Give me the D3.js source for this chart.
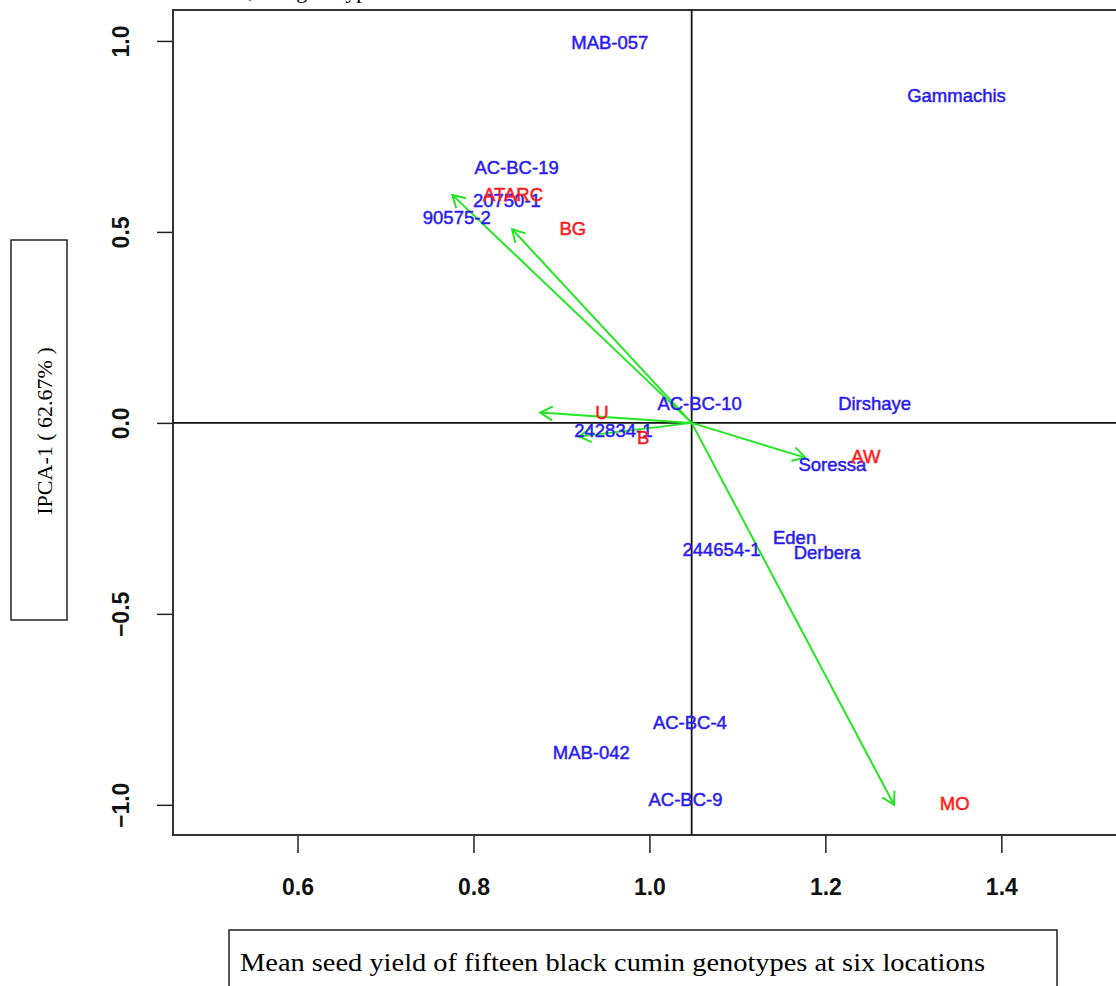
<!DOCTYPE html>
<html>
<head>
<meta charset="utf-8">
<script src="https://cdn.jsdelivr.net/npm/d3@7"></script>
<style>
  body { margin: 0; background: #fff; }
  svg { display: block; }
</style>
</head>
<body>
<div id="chart"></div>
<script>
// GGE biplot - mean seed yield vs IPCA-1

// genotypes (blue labels)
var genoNames = ["MAB-057", "Gammachis", "AC-BC-19", "20750-1", "90575-2", "AC-BC-10", "Dirshaye",
  "242834-1", "Soressa", "Eden", "Derbera", "244654-1", "AC-BC-4", "MAB-042", "AC-BC-9"];
var genoYield = [0.955, 1.349, 0.849, 0.838, 0.781, 1.057, 1.256,
  0.959, 1.208, 1.165, 1.202, 1.082, 1.046, 0.934, 1.041];
var genoIPCA = [0.997, 0.856, 0.668, 0.581, 0.537, 0.050, 0.052,
  -0.021, -0.110, -0.301, -0.340, -0.332, -0.785, -0.864, -0.987];

// environments (red labels + green vectors)
var envNames = ["ATARC", "BG", "U", "B", "AW", "MO"];
var envYield = [0.845, 0.913, 0.946, 0.993, 1.246, 1.347];
var envIPCA = [0.599, 0.508, 0.026, -0.037, -0.089, -0.997];
var arrowX = [0.776, 0.844, 0.876, 0.920, 1.177, 1.278];
var arrowY = [0.597, 0.507, 0.027, -0.036, -0.091, -1.000];

var grandMean = 1.048;
var xTicks = [0.6, 0.8, 1.0, 1.2, 1.4];
var yTicks = [-1.0, -0.5, 0.0, 0.5, 1.0];

var width = 1116, height = 986;
var plot = { left: 173, top: 10, right: 1143, bottom: 835 };

var svg = d3.select("#chart").append("svg")
  .attr("width", width)
  .attr("height", height);

var x = d3.scaleLinear().domain([0.4585, 1.561]).range([plot.left, plot.right]);
var y = d3.scaleLinear().domain([-1.079, 1.081]).range([plot.bottom, plot.top]);

// cut off caption text above the figure
svg.append("text")
  .attr("x", 248).attr("y", -2)
  .attr("text-anchor", "end")
  .style("font-family", "'Liberation Serif', serif")
  .style("font-size", "22px")
  .text("Which-won-where of environments");
svg.append("text")
  .attr("x", 248).attr("y", -2)
  .style("font-family", "'Liberation Serif', serif")
  .style("font-size", "22px")
  .text(", and genotypes");

// axes
var xAxis = d3.axisBottom(x).tickValues(xTicks).tickSize(18).tickPadding(26)
  .tickFormat(d3.format(".1f"));
var gx = svg.append("g")
  .attr("transform", "translate(0," + plot.bottom + ")")
  .call(xAxis);
gx.select(".domain").remove();
gx.selectAll("line").attr("stroke", "#222").attr("stroke-width", 1.5);
gx.selectAll("text")
  .attr("fill", "#111")
  .style("font-family", "'Liberation Sans', Arial, sans-serif")
  .style("font-size", "23px")
  .style("font-weight", "bold");

var yAxis = d3.axisLeft(y).tickValues(yTicks).tickSize(16).tickPadding(0)
  .tickFormat(d3.format(".1f"));
var gy = svg.append("g")
  .attr("transform", "translate(" + plot.left + ",0)")
  .call(yAxis);
gy.select(".domain").remove();
gy.selectAll("line").attr("stroke", "#222").attr("stroke-width", 1.5);
gy.selectAll("text")
  .attr("x", null).attr("dy", null)
  .attr("transform", "translate(-52,0) rotate(-90)")
  .attr("text-anchor", "middle")
  .attr("dominant-baseline", "central")
  .attr("fill", "#111")
  .style("font-family", "'Liberation Sans', Arial, sans-serif")
  .style("font-size", "23px")
  .style("font-weight", "bold");

// frame
svg.append("rect")
  .attr("x", plot.left).attr("y", plot.top)
  .attr("width", plot.right - plot.left)
  .attr("height", plot.bottom - plot.top)
  .attr("fill", "none")
  .attr("stroke", "#333")
  .attr("stroke-width", 2);

// reference lines
svg.append("line")
  .attr("x1", plot.left).attr("x2", plot.right)
  .attr("y1", y(0)).attr("y2", y(0))
  .attr("stroke", "#111").attr("stroke-width", 1.8);
svg.append("line")
  .attr("x1", x(grandMean)).attr("x2", x(grandMean))
  .attr("y1", plot.top).attr("y2", plot.bottom)
  .attr("stroke", "#111").attr("stroke-width", 1.8);

// environment vectors
var envData = envNames.map(function(d, i) {
  return { name: d, x: envYield[i], y: envIPCA[i], ax: arrowX[i], ay: arrowY[i] };
});

var ox = x(grandMean), oy = y(0);
var headLen = 14, headAng = Math.PI / 6;
var arrows = svg.append("g").attr("class", "arrows");
envData.forEach(function(d) {
  var tx = x(d.ax), ty = y(d.ay);
  var ang = Math.atan2(ty - oy, tx - ox);
  arrows.append("line")
    .attr("x1", ox).attr("y1", oy).attr("x2", tx).attr("y2", ty)
    .attr("stroke", "#22e622").attr("stroke-width", 2);
  arrows.append("path")
    .attr("d", "M" + (tx - headLen * Math.cos(ang - headAng)) + "," + (ty - headLen * Math.sin(ang - headAng)) +
      "L" + tx + "," + ty +
      "L" + (tx - headLen * Math.cos(ang + headAng)) + "," + (ty - headLen * Math.sin(ang + headAng)))
    .attr("fill", "none")
    .attr("stroke", "#22e622").attr("stroke-width", 2);
});

// genotype labels
var genoData = genoNames.map(function(d, i) {
  return { name: d, x: genoYield[i], y: genoIPCA[i] };
});

svg.selectAll(".geno")
  .data(genoData)
  .enter().append("text")
  .attr("class", "geno")
  .attr("x", function(d) { return x(d.x); })
  .attr("y", function(d) { return y(d.y); })
  .attr("text-anchor", "middle")
  .attr("dominant-baseline", "central")
  .attr("fill", "#2a1cf0")
  .attr("stroke", "#2a1cf0").attr("stroke-width", 0.5)
  .style("font-family", "'Liberation Sans', Arial, sans-serif")
  .style("font-size", "18.5px")
  .text(function(d) { return d.name; });

svg.selectAll(".env")
  .data(envData)
  .enter().append("text")
  .attr("class", "env")
  .attr("x", function(d) { return x(d.x); })
  .attr("y", function(d) { return y(d.y); })
  .attr("text-anchor", "middle")
  .attr("dominant-baseline", "central")
  .attr("fill", "#ff1a1a")
  .attr("stroke", "#ff1a1a").attr("stroke-width", 0.5)
  .style("font-family", "'Liberation Sans', Arial, sans-serif")
  .style("font-size", "18.5px")
  .text(function(d) { return d.name; });

// y label box
svg.append("rect")
  .attr("x", 11).attr("y", 240).attr("width", 56).attr("height", 380)
  .attr("fill", "none").attr("stroke", "#222").attr("stroke-width", 1.5);
svg.append("text")
  .attr("transform", "translate(44,431) rotate(-90)")
  .attr("text-anchor", "middle")
  .attr("dominant-baseline", "central")
  .style("font-family", "'Liberation Serif', serif")
  .style("font-size", "22px")
  .text("IPCA-1 ( 62.67% )");

// x label box
svg.append("rect")
  .attr("x", 229).attr("y", 930).attr("width", 828).attr("height", 80)
  .attr("fill", "none").attr("stroke", "#222").attr("stroke-width", 1.5);
svg.append("text")
  .attr("x", 240).attr("y", 971)
  .attr("textLength", 745)
  .attr("lengthAdjust", "spacingAndGlyphs")
  .style("font-family", "'Liberation Serif', serif")
  .style("font-size", "26px")
  .text("Mean seed yield of fifteen black cumin genotypes at six locations");
</script>
</body>
</html>
